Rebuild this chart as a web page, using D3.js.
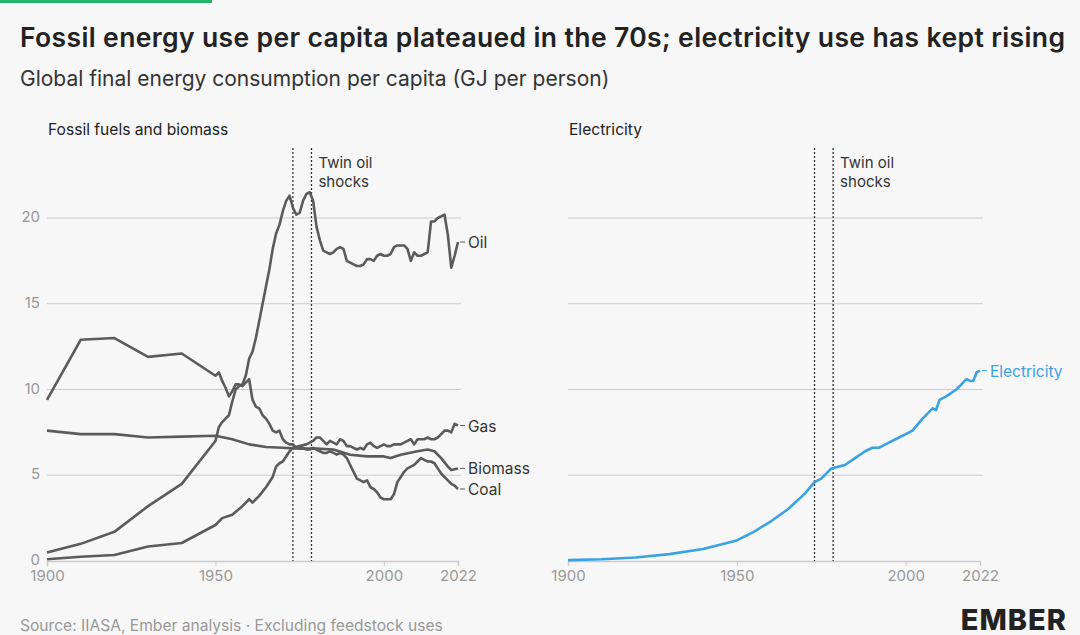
<head>
<script src="https://d3js.org/d3.v7.min.js"></script>
<style>
body { margin: 0; background: #f7f7f7; font-family: Inter, "Noto Sans", sans-serif; }
</style>
</head>
<body>
<svg width="1080" height="635"></svg>
<script>
// [year, value] pairs, GJ per person
var coal = [[1900,9.4],[1910,12.9],[1920,13.0],[1930,11.9],[1940,12.1],[1950,10.8],[1951,11.0],[1952,10.5],[1953,10.1],[1954,9.6],[1955,9.9],[1956,10.3],[1957,10.3],[1958,10.2],[1959,10.4],[1960,10.6],[1961,9.4],[1962,9.0],[1963,8.9],[1964,8.5],[1965,8.3],[1966,8.0],[1967,7.6],[1968,7.5],[1969,7.6],[1970,7.1],[1971,6.9],[1972,6.8],[1973,6.8],[1974,6.6],[1975,6.6],[1976,6.6],[1977,6.5],[1978,6.5],[1979,6.6],[1980,6.5],[1981,6.4],[1982,6.3],[1983,6.3],[1984,6.4],[1985,6.3],[1986,6.2],[1987,6.3],[1988,6.2],[1989,6.0],[1990,5.6],[1991,5.2],[1992,4.8],[1993,4.7],[1994,4.6],[1995,4.7],[1996,4.3],[1997,4.2],[1998,4.0],[1999,3.7],[2000,3.6],[2001,3.6],[2002,3.6],[2003,3.9],[2004,4.6],[2005,4.9],[2006,5.2],[2007,5.4],[2008,5.5],[2009,5.6],[2010,5.8],[2011,6.0],[2012,5.9],[2013,5.8],[2014,5.8],[2015,5.7],[2016,5.4],[2017,5.1],[2018,4.9],[2019,4.7],[2020,4.5],[2021,4.4],[2022,4.2]]
var gas = [[1900,0.1],[1910,0.25],[1920,0.35],[1930,0.85],[1940,1.05],[1950,2.1],[1952,2.5],[1955,2.7],[1958,3.2],[1960,3.6],[1961,3.4],[1963,3.8],[1965,4.3],[1967,4.9],[1968,5.5],[1969,5.7],[1970,5.8],[1972,6.4],[1973,6.6],[1975,6.7],[1977,6.8],[1979,7.0],[1980,7.2],[1981,7.2],[1982,7.0],[1983,6.8],[1984,7.0],[1985,6.9],[1986,6.8],[1987,7.1],[1988,7.0],[1989,6.7],[1990,6.7],[1991,6.6],[1992,6.5],[1993,6.6],[1994,6.5],[1995,6.8],[1996,6.9],[1997,6.7],[1998,6.6],[1999,6.7],[2000,6.8],[2001,6.7],[2002,6.7],[2003,6.8],[2004,6.8],[2005,6.8],[2006,6.9],[2007,7.0],[2008,7.1],[2009,6.8],[2010,7.1],[2011,7.1],[2012,7.1],[2013,7.2],[2014,7.1],[2015,7.1],[2016,7.2],[2017,7.4],[2018,7.6],[2019,7.6],[2020,7.5],[2021,8.0],[2022,7.9]]
var oil = [[1900,0.5],[1910,1.0],[1920,1.7],[1930,3.2],[1940,4.5],[1950,7.0],[1951,7.8],[1952,8.1],[1953,8.3],[1954,8.5],[1955,9.3],[1956,10.0],[1957,10.2],[1958,10.3],[1959,10.8],[1960,11.8],[1961,12.2],[1962,13.0],[1963,14.0],[1964,15.0],[1965,16.0],[1966,17.0],[1967,18.2],[1968,19.1],[1969,19.6],[1970,20.4],[1971,21.0],[1972,21.3],[1973,20.6],[1974,20.2],[1975,20.3],[1976,21.0],[1977,21.4],[1978,21.5],[1979,21.0],[1980,19.5],[1981,18.7],[1982,18.1],[1983,18.0],[1984,17.9],[1985,18.0],[1986,18.2],[1987,18.3],[1988,18.2],[1989,17.5],[1990,17.4],[1991,17.3],[1992,17.2],[1993,17.2],[1994,17.3],[1995,17.6],[1996,17.6],[1997,17.5],[1998,17.8],[1999,17.9],[2000,17.8],[2001,17.8],[2002,17.9],[2003,18.3],[2004,18.4],[2005,18.4],[2006,18.4],[2007,18.2],[2008,17.5],[2009,18.0],[2010,17.8],[2011,17.8],[2012,17.9],[2013,18.0],[2014,19.8],[2015,19.8],[2016,20.0],[2017,20.1],[2018,20.2],[2019,19.0],[2020,17.1],[2021,17.8],[2022,18.6]]
var biomass = [[1900,7.6],[1910,7.4],[1920,7.4],[1930,7.2],[1940,7.25],[1950,7.3],[1955,7.1],[1960,6.8],[1965,6.65],[1970,6.6],[1975,6.55],[1980,6.55],[1985,6.5],[1990,6.2],[1995,6.1],[2000,6.1],[2002,6.0],[2005,6.2],[2010,6.4],[2013,6.5],[2015,6.4],[2017,6.0],[2019,5.5],[2020,5.3],[2021,5.35],[2022,5.4]]
var electricity = [[1900,0.05],[1910,0.1],[1920,0.2],[1930,0.4],[1940,0.7],[1950,1.2],[1955,1.7],[1960,2.3],[1965,3.0],[1970,3.9],[1973,4.6],[1975,4.8],[1978,5.4],[1980,5.5],[1982,5.6],[1985,6.0],[1988,6.4],[1990,6.6],[1992,6.6],[1995,6.9],[1998,7.2],[2000,7.4],[2002,7.6],[2005,8.3],[2008,8.9],[2009,8.8],[2010,9.4],[2012,9.6],[2015,10.0],[2017,10.4],[2018,10.6],[2019,10.5],[2020,10.5],[2021,11.0],[2022,11.1]]
var xTicks = [1900, 1950, 2000, 2022]
var yTicks = [0, 5, 10, 15, 20]
var shocks = [1973, 1978.5]

var svg = d3.select("svg")
svg.append("rect").attr("width", 1080).attr("height", 635).attr("fill", "#f7f7f7")
svg.append("rect").attr("width", 212).attr("height", 3).attr("fill", "#26b36b")

svg.append("text").attr("x", 20).attr("y", 47).attr("font-size", 26.5).attr("font-weight", 600)
  .attr("fill", "#222").attr("textLength", 1045).text("Fossil energy use per capita plateaued in the 70s; electricity use has kept rising")
svg.append("text").attr("x", 20).attr("y", 86).attr("font-size", 21).attr("fill", "#333")
  .text("Global final energy consumption per capita (GJ per person)")
svg.append("text").attr("x", 20).attr("y", 631).attr("font-size", 15.6).attr("fill", "#999")
  .text("Source: IIASA, Ember analysis · Excluding feedstock uses")
svg.append("text").attr("x", 1067).attr("y", 630).attr("text-anchor", "end").attr("font-size", 29)
  .attr("font-weight", 800).attr("fill", "#222").attr("letter-spacing", 1).text("EMBER")

var y = d3.scaleLinear().domain([0, 20]).range([561, 218])

function panel(x0, x1, title, series, showY) {
  var x = d3.scaleLinear().domain([1900, 2022]).range([x0, x1])
  var g = svg.append("g")
  g.append("text").attr("x", x0 + 1).attr("y", 135).attr("font-size", 15.6).attr("fill", "#222").text(title)
  g.selectAll(".grid").data(yTicks.slice(1)).enter().append("line")
    .attr("x1", x0).attr("x2", x1 + 3).attr("y1", y).attr("y2", y).attr("stroke", "#ccc").attr("stroke-width", 1.2)
  if (showY) {
    g.selectAll(".yl").data(yTicks).enter().append("text")
      .attr("x", x0 - 7).attr("y", d => y(d) + 4).attr("text-anchor", "end").attr("font-size", 15).attr("fill", "#999").text(d => d)
  }
  var ax = g.append("g").attr("transform", "translate(0,561)")
    .call(d3.axisBottom(x).tickValues(xTicks).tickFormat(d3.format("d")).tickSize(5))
  ax.select(".domain").attr("stroke", "#ccc").attr("stroke-width", 1.5)
  ax.selectAll(".tick line").attr("stroke", "#ccc")
  ax.selectAll("text").attr("font-size", 15).attr("fill", "#999").attr("font-family", "Inter, sans-serif").attr("dy", "0.8em")
  shocks.forEach(function (s) {
    g.append("line").attr("x1", x(s)).attr("x2", x(s)).attr("y1", 148).attr("y2", 561)
      .attr("stroke", "#333").attr("stroke-width", 1.3).attr("stroke-dasharray", "2,2")
  })
  var t = g.append("text").attr("x", x(shocks[1]) + 7).attr("y", 168).attr("font-size", 15).attr("fill", "#333")
  t.append("tspan").attr("x", x(shocks[1]) + 7).text("Twin oil")
  t.append("tspan").attr("x", x(shocks[1]) + 7).attr("dy", 19).text("shocks")

  var line = d3.line().x(d => x(d[0])).y(d => y(d[1]))
  series.forEach(function (s) {
    g.append("path").datum(s.data).attr("d", line).attr("fill", "none")
      .attr("stroke", s.color).attr("stroke-width", 2.6).attr("stroke-linejoin", "round")
    var last = s.data[s.data.length - 1]
    var ly = s.labelY !== undefined ? s.labelY : last[1]
    g.append("line").attr("x1", x1 + 2).attr("x2", x1 + 7).attr("y1", y(ly)).attr("y2", y(ly)).attr("stroke", s.color).attr("stroke-width", 1)
    g.append("text").attr("x", x1 + 10).attr("y", y(ly) + 6).attr("font-size", 15.5)
      .attr("fill", s.textColor || "#333").text(s.name)
  })
}

panel(47, 458, "Fossil fuels and biomass", [
  { name: "Oil", data: oil, color: "#5b5b5b", labelY: 18.6 },
  { name: "Gas", data: gas, color: "#5b5b5b", labelY: 7.9 },
  { name: "Biomass", data: biomass, color: "#5b5b5b", labelY: 5.4 },
  { name: "Coal", data: coal, color: "#5b5b5b", labelY: 4.2 }
], true)
panel(568, 980, "Electricity", [
  { name: "Electricity", data: electricity, color: "#3aa2e3", textColor: "#3aa2e3" }
], false)
</script>
</body>
